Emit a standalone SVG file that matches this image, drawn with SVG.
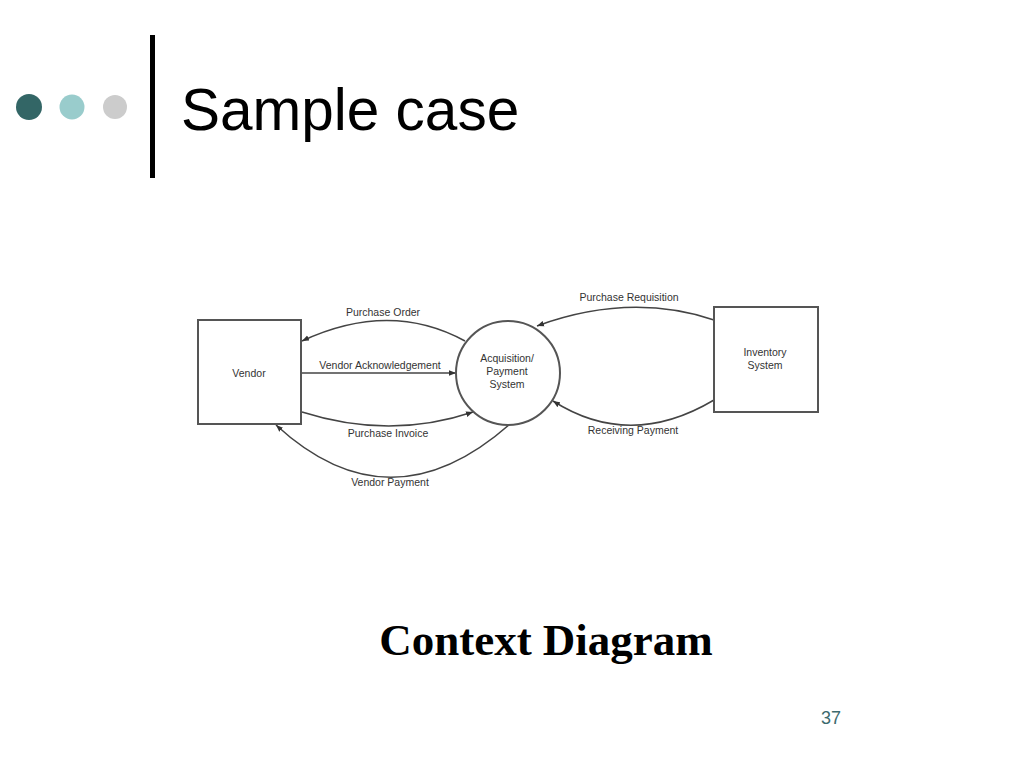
<svg xmlns="http://www.w3.org/2000/svg" width="1024" height="768" viewBox="0 0 1024 768">
<defs>
<marker id="arr" viewBox="0 0 10 10" refX="10" refY="5" markerWidth="7" markerHeight="7" orient="auto" markerUnits="userSpaceOnUse">
<path d="M0,1 L10,5 L0,9 z" fill="#333"/>
</marker>
<style>
.node{fill:#fff;stroke:#555;stroke-width:2}
.lbl{font-family:"Liberation Sans",Arial,sans-serif;font-size:10.5px;fill:#333;text-anchor:middle}
.flow{fill:none;stroke:#444;stroke-width:1.5;marker-end:url(#arr)}
</style>
</defs>
<rect width="1024" height="768" fill="#fff"/>
<g id="header">
<circle cx="29" cy="107" r="13" fill="#336666"/>
<circle cx="72" cy="107" r="12.5" fill="#99cccc"/>
<circle cx="115" cy="107" r="12" fill="#cccccc"/>
<rect x="150" y="35" width="5" height="143" fill="#000"/>
<text x="181" y="130" font-family="Liberation Sans,Arial,sans-serif" font-size="58.5" fill="#000">Sample case</text>
</g>
<g id="connectors">
<path class="flow" d="M465,341 Q390,300 302,341"/>
<path class="flow" d="M302,373 L456,373"/>
<path class="flow" d="M302,412 Q390,440 473,412"/>
<path class="flow" d="M510,424 Q390,530 276,425"/>
<path class="flow" d="M714,320 Q630,292 537,326"/>
<path class="flow" d="M714,400 Q630,450 553,401"/>
</g>
<g id="labels">
<text class="lbl" x="383" y="316">Purchase Order</text>
<text class="lbl" x="380" y="369">Vendor Acknowledgement</text>
<text class="lbl" x="388" y="437">Purchase Invoice</text>
<text class="lbl" x="390" y="486">Vendor Payment</text>
<text class="lbl" x="629" y="301">Purchase Requisition</text>
<text class="lbl" x="633" y="434">Receiving Payment</text>
</g>
<g id="vendor">
<rect class="node" x="198" y="320" width="103" height="104"/>
<text class="lbl" x="249" y="377">Vendor</text>
</g>
<g id="acquisition">
<circle class="node" cx="508" cy="373" r="52"/>
<text class="lbl" x="507" y="362">Acquisition/</text>
<text class="lbl" x="507" y="375">Payment</text>
<text class="lbl" x="507" y="388">System</text>
</g>
<g id="inventory">
<rect class="node" x="714" y="307" width="104" height="105"/>
<text class="lbl" x="765" y="356">Inventory</text>
<text class="lbl" x="765" y="369">System</text>
</g>
<text x="546" y="655" text-anchor="middle" font-family="Liberation Serif,Times New Roman,serif" font-weight="bold" font-size="45" fill="#000">Context Diagram</text>
<text x="831" y="724" text-anchor="middle" font-family="Liberation Sans,Arial,sans-serif" font-size="18" fill="#3d6a6e">37</text>
</svg>
